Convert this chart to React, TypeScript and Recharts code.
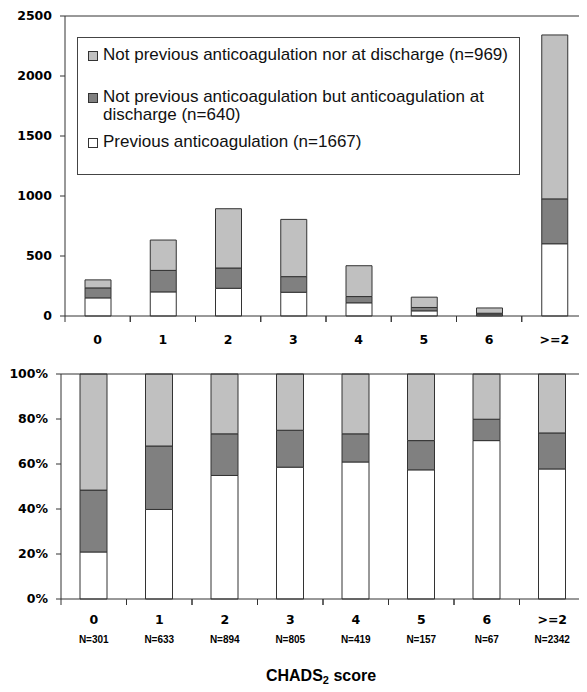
import { BarChart, Bar, XAxis, YAxis, Legend, ReferenceLine } from "recharts";

const categories = ["0", "1", "2", "3", "4", "5", "6", ">=2"];
const nLabels = ["N=301", "N=633", "N=894", "N=805", "N=419", "N=157", "N=67", "N=2342"];

// patients per CHADS2 score
const prevCounts = [151, 201, 231, 198, 110, 43, 10, 602];
const dischargeCounts = [83, 179, 169, 130, 52, 28, 13, 374];
const neitherCounts = [67, 253, 494, 477, 257, 86, 44, 1366];

// share of patients per score (%)
const prevPct = [20.9, 39.8, 54.9, 58.6, 60.9, 57.4, 70.4, 57.8];
const dischargePct = [27.5, 28.2, 18.5, 16.4, 12.5, 13.0, 9.5, 16.0];
const neitherPct = [51.6, 32.0, 26.6, 25.0, 26.6, 29.6, 20.1, 26.2];

const countTicks = [0, 500, 1000, 1500, 2000, 2500];
const pctTicks = [0, 20, 40, 60, 80, 100];

const seriesNames = [
  "Previous anticoagulation (n=1667)",
  "Not previous anticoagulation but anticoagulation at discharge (n=640)",
  "Not previous anticoagulation nor at discharge (n=969)",
];
const seriesColors = ["#ffffff", "#808080", "#c0c0c0"];

const countData = categories.map((name, i) => ({
  name,
  prev: prevCounts[i],
  discharge: dischargeCounts[i],
  neither: neitherCounts[i],
}));

const pctData = categories.map((name, i) => ({
  name,
  n: nLabels[i],
  prev: prevPct[i],
  discharge: dischargePct[i],
  neither: neitherPct[i],
}));

const W = 587;
const LINE = "#333";
const tickFont = { fill: "#000", fontSize: 12.5, fontWeight: "bold", fontFamily: "DejaVu Sans" };

// category label plus tick marks on the band edges (not the centres)
function makeTick(band: number, labelDy: number, withN: boolean) {
  return (props: any) => {
    const { x, y, payload, index } = props;
    return (
      <g>
        <line x1={x - band / 2} x2={x - band / 2} y1={y} y2={y + 6} stroke={LINE} />
        <line x1={x + band / 2} x2={x + band / 2} y1={y} y2={y + 6} stroke={LINE} />
        <text x={x} y={y + labelDy} textAnchor="middle" {...tickFont}>
          {payload.value}
        </text>
        {withN && (
          <text
            x={x}
            y={y + 44}
            textAnchor="middle"
            fill="#000"
            fontSize={10}
            fontWeight="bold"
            fontFamily="Liberation Sans"
          >
            {pctData[index]?.n}
          </text>
        )}
      </g>
    );
  };
}

function LegendBox() {
  const order = [2, 1, 0];
  const gaps = [24, 8.7, 0];
  return (
    <div
      style={{
        boxSizing: "border-box",
        width: "100%",
        height: "100%",
        border: "1px solid #444",
        background: "#fff",
        padding: "8px 0 0 10px",
        fontFamily: "Liberation Sans",
        fontSize: 17,
        lineHeight: "18px",
        color: "#111",
      }}
    >
      {order.map((s, k) => (
        <div key={s} style={{ display: "flex", alignItems: "flex-start", marginBottom: gaps[k] }}>
          <span
            style={{
              boxSizing: "border-box",
              width: 10,
              height: 10,
              marginTop: 5,
              marginRight: 5,
              flex: "0 0 10px",
              background: seriesColors[s],
              border: "1px solid #333",
            }}
          />
          <span style={{ width: 410 }}>{seriesNames[s]}</span>
        </div>
      ))}
    </div>
  );
}

function TitleLabel(props: any) {
  const vb = props.viewBox || {};
  return (
    <text
      x={vb.x + vb.width / 2 - 2}
      y={vb.y + 82}
      textAnchor="middle"
      fill="#000"
      fontSize={16}
      fontWeight="bold"
      fontFamily="Liberation Sans"
    >
      CHADS
      <tspan fontSize={11} dy={3}>2</tspan>
      <tspan dy={-3}> score</tspan>
    </text>
  );
}

export default function App() {
  const topBand = (W - 65) / categories.length;
  const bottomBand = (W - 2 - 61) / categories.length;
  return (
    <div style={{ position: "relative", margin: -8, width: W, height: 692, background: "#fff", overflow: "hidden" }}>
      <BarChart
        width={W}
        height={350}
        data={countData}
        margin={{ top: 16, right: 0, bottom: 0, left: 0 }}
        barSize={26}
      >
        <XAxis
          dataKey="name"
          height={34}
          tickLine={false}
          tickSize={0}
          tickMargin={0}
          axisLine={{ stroke: LINE }}
          tick={makeTick(topBand, 28, false)}
          interval={0}
        />
        <YAxis
          width={65}
          domain={[0, 2500]}
          ticks={countTicks}
          tickSize={5}
          tickMargin={8}
          tickLine={{ stroke: LINE }}
          axisLine={{ stroke: LINE }}
          tick={tickFont}
        />
        <ReferenceLine y={2500} stroke={LINE} />
        <Legend
          layout="horizontal"
          verticalAlign="middle"
          align="center"
          wrapperStyle={{ top: 37, left: 77, width: 443, height: 138 }}
          content={() => <LegendBox />}
        />
        <Bar dataKey="prev" stackId="a" fill={seriesColors[0]} stroke={LINE} isAnimationActive={false} />
        <Bar dataKey="discharge" stackId="a" fill={seriesColors[1]} stroke={LINE} isAnimationActive={false} />
        <Bar dataKey="neither" stackId="a" fill={seriesColors[2]} stroke={LINE} isAnimationActive={false} />
      </BarChart>
      <BarChart
        width={W}
        height={342}
        data={pctData}
        margin={{ top: 24, right: 2, bottom: 0, left: 0 }}
        barSize={27}
      >
        <XAxis
          dataKey="name"
          height={93}
          tickLine={false}
          tickSize={0}
          tickMargin={0}
          axisLine={{ stroke: LINE }}
          tick={makeTick(bottomBand, 25, true)}
          interval={0}
          label={(p: any) => <TitleLabel {...p} />}
        />
        <YAxis
          width={61}
          domain={[0, 100]}
          ticks={pctTicks}
          tickFormatter={(v) => `${v}%`}
          tickSize={5}
          tickMargin={8}
          tickLine={{ stroke: LINE }}
          axisLine={{ stroke: LINE }}
          tick={tickFont}
        />
        <YAxis
          yAxisId="right"
          orientation="right"
          width={0}
          tick={false}
          tickLine={false}
          axisLine={{ stroke: LINE }}
        />
        <ReferenceLine y={100} stroke={LINE} />
        <Bar dataKey="prev" stackId="p" fill={seriesColors[0]} stroke={LINE} isAnimationActive={false} />
        <Bar dataKey="discharge" stackId="p" fill={seriesColors[1]} stroke={LINE} isAnimationActive={false} />
        <Bar dataKey="neither" stackId="p" fill={seriesColors[2]} stroke={LINE} isAnimationActive={false} />
      </BarChart>
    </div>
  );
}
